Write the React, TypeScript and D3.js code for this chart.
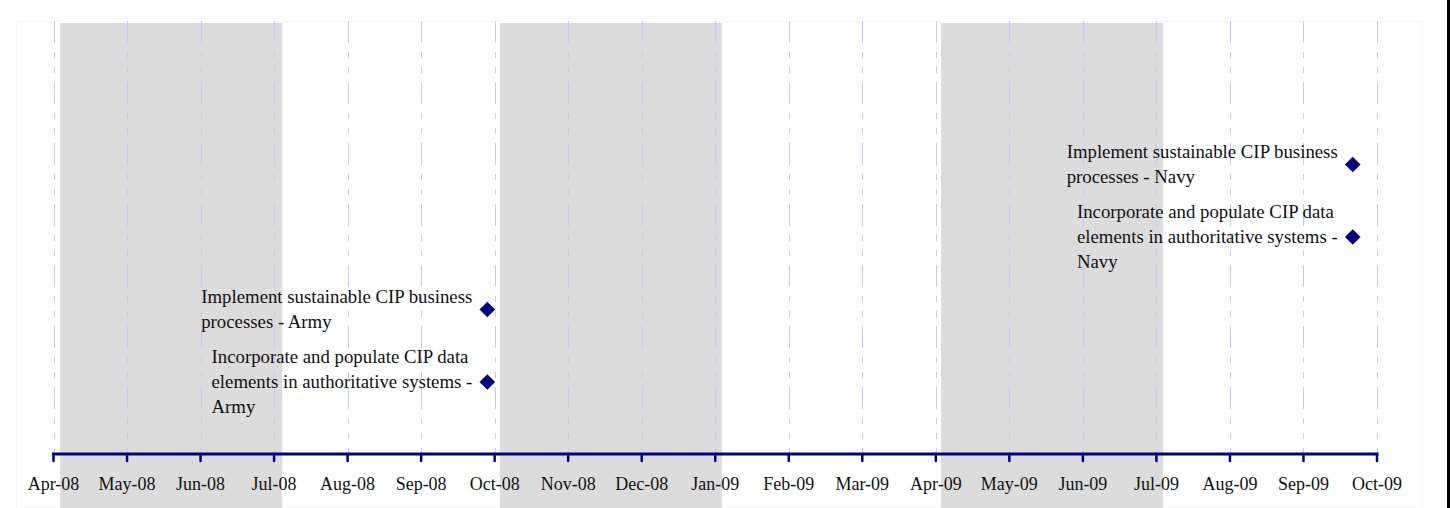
import React, { useEffect, useRef } from "react";
import * as d3 from "d3";

// Month tick labels (equally spaced monthly axis)
const monthLabels = [
  "Apr-08", "May-08", "Jun-08", "Jul-08", "Aug-08", "Sep-08", "Oct-08",
  "Nov-08", "Dec-08", "Jan-09", "Feb-09", "Mar-09", "Apr-09", "May-09",
  "Jun-09", "Jul-09", "Aug-09", "Sep-09", "Oct-09",
];

// Milestones: label lines, position in months after Apr-08, and vertical level
const milestoneLines: string[][] = [
  ["Implement sustainable CIP business", "processes - Army"],
  ["Incorporate and populate CIP data", "elements in authoritative systems -", "Army"],
  ["Implement sustainable CIP business", "processes - Navy"],
  ["Incorporate and populate CIP data", "elements in authoritative systems -", "Navy"],
];
const milestoneMonth = [5.9, 5.9, 17.67, 17.67];
const milestoneLevel = [2, 1, 4, 3];

// Shaded quarters (in months after Apr-08)
const bandStart = [0.09, 6.07, 12.07];
const bandEnd = [3.11, 9.09, 15.09];

export default function App() {
  const ref = useRef<SVGSVGElement | null>(null);

  useEffect(() => {
    document.body.style.margin = "0";
    const svg = d3.select(ref.current);
    svg.selectAll("*").remove();

    const W = 1450, H = 508;
    const x = d3.scaleLinear().domain([0, monthLabels.length - 1]).range([53.5, 1377]);
    const y = d3.scaleLinear().domain([0, 6]).range([454.5, 19.5]);
    const axisY = 454;
    const font = "'Liberation Serif', 'Times New Roman', serif";

    svg.append("rect").attr("width", W).attr("height", H).attr("fill", "#ffffff");

    // faint plot-area frame
    svg.append("rect")
      .attr("x", 16.5).attr("y", 21.5).attr("width", 1406).attr("height", 486)
      .attr("fill", "none").attr("stroke", "#f8f8f8").attr("stroke-width", 1);

    // quarter bands
    svg.append("g").selectAll("rect")
      .data(bandStart.map((s, i) => [s, bandEnd[i]]))
      .join("rect")
      .attr("x", d => x(d[0]))
      .attr("width", d => x(d[1]) - x(d[0]))
      .attr("y", 23)
      .attr("height", H - 23)
      .attr("fill", "#dcdcdc");

    // gridlines
    svg.append("g").selectAll("line")
      .data(monthLabels.map((_, i) => i))
      .join("line")
      .attr("x1", d => Math.round(x(d)) + 0.5)
      .attr("x2", d => Math.round(x(d)) + 0.5)
      .attr("y1", 21)
      .attr("y2", 452)
      .attr("stroke", "#c8c8ff")
      .attr("stroke-width", 1)
      .attr("stroke-dasharray", "22,9,6,9,6,9");

    // axis line
    svg.append("line")
      .attr("x1", x(0)).attr("x2", x(monthLabels.length - 1))
      .attr("y1", axisY).attr("y2", axisY)
      .attr("stroke", "#000080").attr("stroke-width", 3)
      .attr("stroke-linecap", "square");

    // ticks
    svg.append("g").selectAll("line")
      .data(monthLabels.map((_, i) => i))
      .join("line")
      .attr("x1", d => x(d)).attr("x2", d => x(d))
      .attr("y1", axisY).attr("y2", 461)
      .attr("stroke", "#000080").attr("stroke-width", 2.5)
      .attr("stroke-linecap", "round");

    // tick labels
    svg.append("g").selectAll("text")
      .data(monthLabels)
      .join("text")
      .attr("x", (_, i) => x(i))
      .attr("y", 490)
      .attr("text-anchor", "middle")
      .attr("font-family", font)
      .attr("font-size", 18)
      .attr("fill", "#111111")
      .text(d => d);

    // diamonds
    const sym = d3.symbol().type(d3.symbolDiamond2).size(155);
    svg.append("g").selectAll("path")
      .data(milestoneMonth.map((m, i) => ({ m, l: milestoneLevel[i] })))
      .join("path")
      .attr("transform", d => `translate(${x(d.m)},${y(d.l)})`)
      .attr("d", sym as any)
      .attr("fill", "#000080");

    // labels
    const lh = 25;
    milestoneLines.forEach((lines, i) => {
      const g = svg.append("g");
      const cx = x(milestoneMonth[i]);
      const cy = y(milestoneLevel[i]);
      const n = lines.length;
      const texts = lines.map((ln, j) =>
        g.append("text")
          .attr("y", cy + (j - (n - 1) / 2) * lh + 1 + 5)
          .attr("font-family", font)
          .attr("font-size", 18.8)
          .attr("fill", "#111111")
          .text(ln)
      );
      const w = d3.max(texts, t => (t.node() as SVGTextElement).getComputedTextLength()) || 0;
      const x0 = cx - 15 - w;
      texts.forEach(t => t.attr("x", x0));
    });

    // right edge bar
    svg.append("rect").attr("x", 1447).attr("y", 0).attr("width", 3).attr("height", H).attr("fill", "#000000");
  }, []);

  return <svg ref={ref} width={1450} height={508} style={{ display: "block" }} />;
}
